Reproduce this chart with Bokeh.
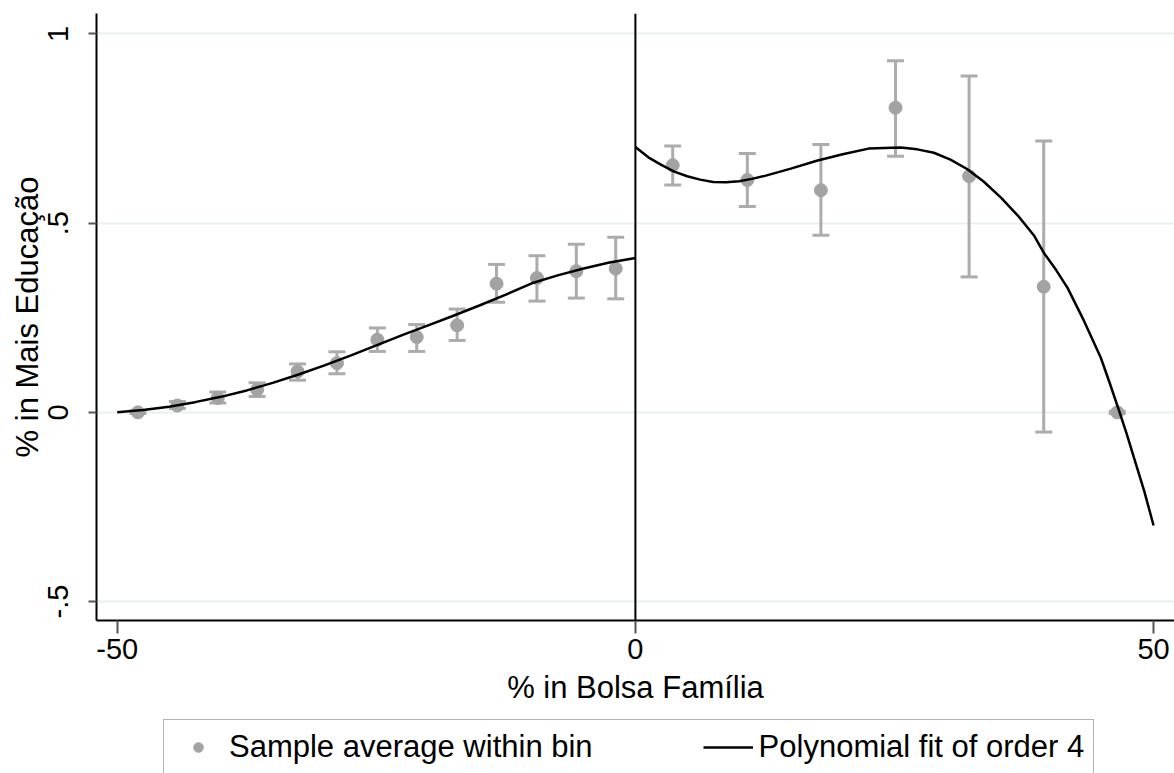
from bokeh.plotting import figure
from bokeh.layouts import column
from bokeh.models import (ColumnDataSource, Whisker, TeeHead, Span, Legend,
                          LegendItem, FixedTicker, Range1d)
from bokeh.embed import file_html
from bokeh.resources import INLINE

# ---- data ----
left_x = [-48.0, -44.2, -40.3, -36.5, -32.6, -28.8, -24.9, -21.1, -17.2, -13.4, -9.5, -5.7, -1.9]
left_y = [0.000, 0.018, 0.038, 0.060, 0.108, 0.130, 0.192, 0.199, 0.230, 0.340, 0.355, 0.373, 0.380]
left_lo = [-0.003, 0.010, 0.025, 0.042, 0.085, 0.102, 0.161, 0.161, 0.190, 0.291, 0.294, 0.302, 0.300]
left_hi = [0.004, 0.029, 0.054, 0.078, 0.128, 0.160, 0.223, 0.232, 0.273, 0.391, 0.414, 0.444, 0.463]

right_x = [3.6, 10.8, 17.9, 25.1, 32.2, 39.4, 46.5]
right_y = [0.653, 0.614, 0.587, 0.805, 0.624, 0.332, 0.000]
right_lo = [0.601, 0.544, 0.468, 0.677, 0.358, -0.052, -0.003]
right_hi = [0.704, 0.684, 0.708, 0.929, 0.889, 0.717, 0.003]

left_fit_x = [-50, -47.5, -45, -42.5, -40, -37.5, -35, -32.5, -30, -27.5, -25,
              -22.5, -20, -17.5, -15, -12.5, -10, -7.5, -5, -2.5, 0]
left_fit_y = [0.000, 0.006, 0.015, 0.027, 0.041, 0.058, 0.078, 0.100, 0.124, 0.150, 0.177,
              0.204, 0.230, 0.256, 0.283, 0.311, 0.341, 0.362, 0.380, 0.396, 0.408]

right_fit_x = [0, 1.25, 2.5, 3.75, 5, 6.25, 7.5, 8.75, 10, 11.25, 12.5, 15, 17.5, 20,
               22.5, 25.6, 27.2, 28.8, 30.4, 32.0, 33.6, 35.3, 36.9, 38.5, 39.4,
               40.6, 41.7, 43.3, 44.9, 45.8, 46.7, 47.4, 48.1, 49.1, 50.0]
right_fit_y = [0.701, 0.674, 0.654, 0.636, 0.624, 0.615, 0.609, 0.608, 0.611, 0.617, 0.625,
               0.644, 0.665, 0.682, 0.697, 0.700, 0.695, 0.686, 0.668, 0.643, 0.610,
               0.567, 0.520, 0.466, 0.422, 0.376, 0.329, 0.241, 0.145, 0.075, 0.002,
               -0.056, -0.119, -0.208, -0.299]

x_ticks = [-50, 0, 50]
x_tick_labels = ["-50", "0", "50"]
y_ticks = [-0.5, 0, 0.5, 1]
y_tick_labels = ["-.5", "0", ".5", "1"]

x_title = "% in Bolsa Família"
y_title = "% in Mais Educação"
label_points = "Sample average within bin"
label_fit = "Polynomial fit of order 4"

# ---- styles ----
FONT = "Liberation Sans"
PT = "#a3a3a3"
EB = "#acacac"
GRID = "#e8f0f2"

p = figure(frame_width=1078, frame_height=607,
           x_range=Range1d(-52.0, 52.02), y_range=Range1d(-0.550, 1.054),
           output_backend="svg", toolbar_location=None,
           min_border_left=96, min_border_top=13, min_border_right=0,
           min_border_bottom=97, background_fill_color="white",
           border_fill_color="white")
p.outline_line_color = None
p.xgrid.visible = False
p.ygrid.grid_line_color = GRID
p.ygrid.grid_line_width = 2
p.ygrid.ticker = FixedTicker(ticks=y_ticks)

p.xaxis.ticker = FixedTicker(ticks=x_ticks)
p.xaxis.major_label_overrides = {t: s for t, s in zip(x_ticks, x_tick_labels)}
p.yaxis.ticker = FixedTicker(ticks=y_ticks)
p.yaxis.major_label_overrides = {t: s for t, s in zip(y_ticks, y_tick_labels)}
p.yaxis.major_label_orientation = "vertical"

for ax in (p.xaxis[0], p.yaxis[0]):
    ax.axis_line_color = "black"
    ax.axis_line_width = 2
    ax.major_tick_line_color = "#555555"
    ax.major_tick_line_width = 2
    ax.major_tick_in = 0
    ax.minor_tick_line_color = None
    ax.major_label_text_font = FONT
    ax.major_label_text_font_size = "29px"
    ax.major_label_text_color = "black"
    ax.axis_label_text_font = FONT
    ax.axis_label_text_font_size = "31px"
    ax.axis_label_text_font_style = "normal"
    ax.axis_label_text_color = "black"

p.xaxis.major_tick_out = 13
p.xaxis.major_label_standoff = 5
p.xaxis.axis_label = x_title
p.xaxis.axis_label_standoff = 8
p.yaxis.major_tick_out = 8
p.yaxis.major_label_standoff = 20
p.yaxis.axis_label = y_title
p.yaxis.axis_label_standoff = 1

p.add_layout(Span(location=0, dimension="height", line_color="black", line_width=2))

src_l = ColumnDataSource(dict(x=left_x, y=left_y, lo=left_lo, hi=left_hi))
src_r = ColumnDataSource(dict(x=right_x, y=right_y, lo=right_lo, hi=right_hi))

for src in (src_l, src_r):
    p.add_layout(Whisker(base="x", upper="hi", lower="lo", source=src,
                         line_color=EB, line_width=3,
                         upper_head=TeeHead(size=17, line_color=EB, line_width=3),
                         lower_head=TeeHead(size=17, line_color=EB, line_width=3)))

p.scatter("x", "y", source=src_l, size=13, fill_color=PT, line_color=PT)
p.scatter("x", "y", source=src_r, size=13, fill_color=PT, line_color=PT)

p.line(left_fit_x, left_fit_y, line_color="black", line_width=2.5)
p.line(right_fit_x, right_fit_y, line_color="black", line_width=2.5)

# ---- legend strip below the chart (frame aligned with the chart's frame) ----
q = figure(width=1174, height=70, x_range=Range1d(0, 1), y_range=Range1d(0, 1),
           output_backend="svg", toolbar_location=None,
           x_axis_type=None, y_axis_type=None,
           min_border_left=0, min_border_right=0, min_border_top=0,
           min_border_bottom=0, background_fill_color="white",
           border_fill_color="white")
q.outline_line_color = None
q.grid.visible = False
nan = float("nan")
lg_pt = q.scatter(x=[nan], y=[nan], size=10, fill_color=PT, line_color=PT)
lg_ln = q.line(x=[nan, nan], y=[nan, nan], line_color="black", line_width=2.5)

legend = Legend(items=[LegendItem(label=label_points, renderers=[lg_pt]),
                       LegendItem(label=label_fit, renderers=[lg_ln])],
                orientation="horizontal", location=(67, 12),
                glyph_width=50, glyph_height=24, label_standoff=6,
                spacing=110, padding=9, margin=0,
                label_text_font=FONT, label_text_font_size="31px",
                label_text_color="black",
                border_line_color="#666666", border_line_width=1.5,
                background_fill_color="white", background_fill_alpha=1)
q.add_layout(legend, "center")

layout = column(p, q, spacing=0)
open("out.html", "w").write(file_html(layout, INLINE))
